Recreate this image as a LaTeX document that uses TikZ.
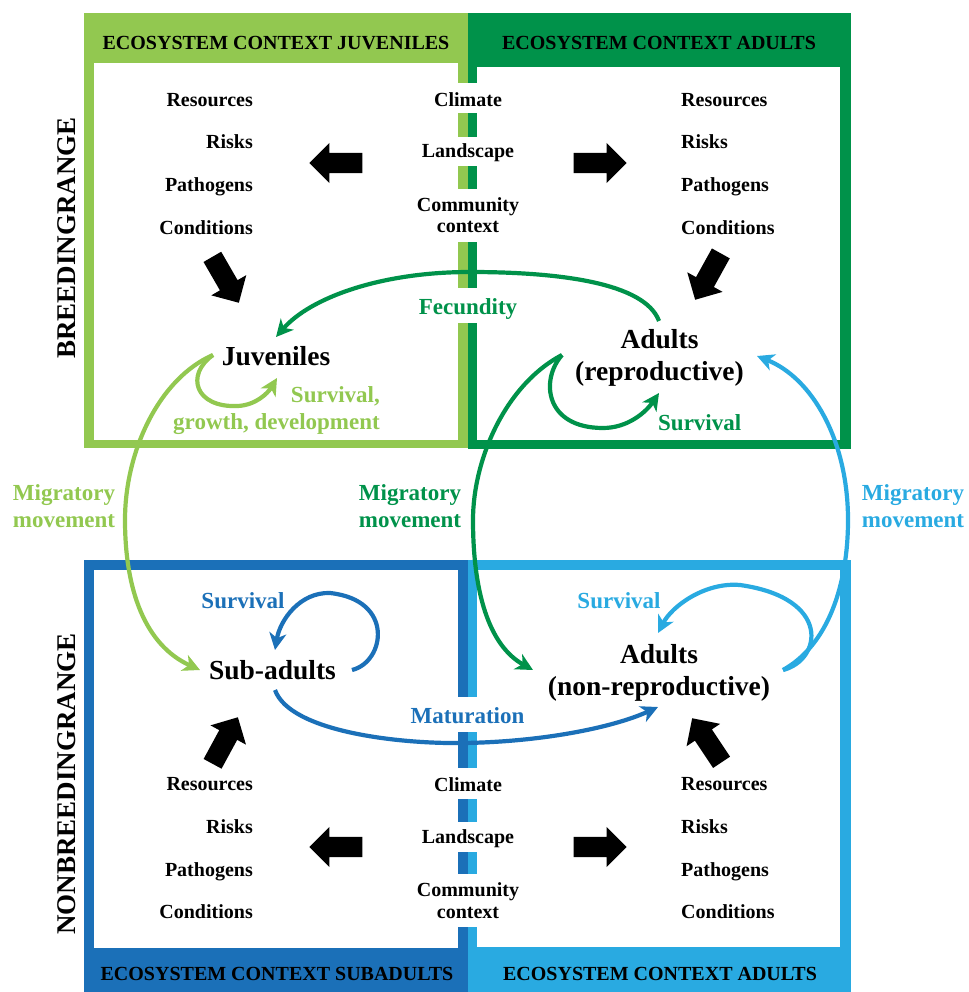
\documentclass[tikz,border=0pt]{standalone}
\usepackage{fontspec}
\setmainfont{Liberation Serif}
\usetikzlibrary{arrows.meta,shapes.arrows}
\definecolor{lgreen}{HTML}{92C850}
\definecolor{dgreen}{HTML}{00924A}
\definecolor{dblue}{HTML}{1B70B8}
\definecolor{lblue}{HTML}{29AAE1}
\begin{document}
\begin{tikzpicture}[x=1pt,y=-1pt,
  title/.style={font=\bfseries\fontsize{20}{23}\selectfont, inner sep=0pt, anchor=base},
  body/.style={font=\bfseries\fontsize{20}{21.5}\selectfont, inner sep=0pt, align=center},
  stage/.style={font=\bfseries\fontsize{27.5}{31.5}\selectfont, inner sep=0pt, anchor=base, align=center},
  clab/.style={font=\bfseries\fontsize{23}{27}\selectfont, inner sep=0pt, anchor=base, align=center},
  side/.style={font=\bfseries\fontsize{27}{30}\selectfont, inner sep=0pt, rotate=90},
  blk/.style={single arrow, fill=black, draw=none, inner xsep=0pt, inner ysep=10pt,
              minimum height=53pt, single arrow head extend=10pt, single arrow tip angle=90,
              anchor=tip},
  flow/.style={line width=4.2pt, -{Stealth[length=17pt,width=17pt,inset=5pt]}}
]
\useasboundingbox (0,0) rectangle (968,992);

% ---- boxes
\fill[lgreen] (84,13) rectangle (468,448);
\fill[white] (94,63) rectangle (458,440);
\fill[dgreen] (468,13) rectangle (851,449);
\fill[white] (477,67) rectangle (840,440);
\fill[dblue] (84,560) rectangle (468,992);
\fill[white] (94,570) rectangle (458,948);
\fill[lblue] (468,560) rectangle (851,992);
\fill[white] (477,570) rectangle (840,947);
\foreach \a/\b in {83/113,137/166,189/242,288/323,697/732,768/799,822/852,874/927}
  \fill[white] (458,\a) rectangle (477,\b);

% ---- titles
\node[title] (t1) at (276,50) {ECOSYSTEM CONTEXT JUVENILES};
\node[title] (t2) at (659,50) {ECOSYSTEM CONTEXT ADULTS};
\node[title] (t3) at (277,980) {ECOSYSTEM CONTEXT SUBADULTS};
\node[title] (t4) at (660,980) {ECOSYSTEM CONTEXT ADULTS};

\node[side] (br) at (67,238) {BREEDINGRANGE};
\node[side] (nbr) at (67,784) {NONBREEDINGRANGE};

% ---- ecosystem factors (top)
\node[body, anchor=base east] (r1) at (253,107) {Resources};
\node[body, anchor=base east] (k1) at (253,149) {Risks};
\node[body, anchor=base east] (p1) at (253,192) {Pathogens};
\node[body, anchor=base east] (c1) at (253,235) {Conditions};
\node[body, anchor=base west] (r2) at (681,107) {Resources};
\node[body, anchor=base west] (k2) at (681,149) {Risks};
\node[body, anchor=base west] (p2) at (681,192) {Pathogens};
\node[body, anchor=base west] (c2) at (681,235) {Conditions};
\node[body, anchor=base] (cl1) at (468,107) {Climate};
\node[body, anchor=base] (ls1) at (468,158) {Landscape};
\node[body, anchor=base] (cc1) at (468,233) {Community\\context};

% ---- ecosystem factors (bottom)
\node[body, anchor=base east] (r3) at (253,790) {Resources};
\node[body, anchor=base east] (k3) at (253,833) {Risks};
\node[body, anchor=base east] (p3) at (253,876) {Pathogens};
\node[body, anchor=base east] (c3) at (253,918) {Conditions};
\node[body, anchor=base west] (r4) at (681,790) {Resources};
\node[body, anchor=base west] (k4) at (681,833) {Risks};
\node[body, anchor=base west] (p4) at (681,876) {Pathogens};
\node[body, anchor=base west] (c4) at (681,918) {Conditions};
\node[body, anchor=base] (cl2) at (468,791) {Climate};
\node[body, anchor=base] (ls2) at (468,843) {Landscape};
\node[body, anchor=base] (cc2) at (468,918) {Community\\context};

% ---- block arrows (placed by their tips)
\node[blk, rotate=180] (ba1) at (309,163) {};
\node[blk] (ba2) at (627,163) {};
\node[blk, rotate=180] (ba3) at (309,847) {};
\node[blk] (ba4) at (627,847) {};
\node[blk, rotate=-60] (ba5) at (239,303) {};
\node[blk, rotate=-119] (ba6) at (695,300) {};
\node[blk, rotate=61.5] (ba7) at (238,717) {};
\node[blk, rotate=123.7] (ba8) at (692,718) {};

% ---- stages
\node[stage] (juv) at (276,365) {Juveniles};
\node[stage] (adr) at (659.5,380) {Adults\\(reproductive)};
\node[stage] (sub) at (272.5,679) {Sub-adults};
\node[stage] (adn) at (659,695) {Adults\\(non-reproductive)};

% ---- coloured labels
\node[clab, text=dgreen] (fec) at (468,314) {Fecundity};
\node[clab, text=lgreen, anchor=base east, align=right] (sgd) at (380,429) {Survival,\\growth, development};
\node[clab, text=dgreen, anchor=base west] (sadr) at (658,430) {Survival};
\node[clab, text=lgreen] (m1) at (64,527) {Migratory\\movement};
\node[clab, text=dgreen] (m2) at (410,527) {Migratory\\movement};
\node[clab, text=lblue] (m3) at (913,527) {Migratory\\movement};
\node[clab, text=dblue] (ssub) at (243,608) {Survival};
\node[clab, text=dblue] (mat) at (467.5,723) {Maturation};
\node[clab, text=lblue] (sadn) at (619,608) {Survival};

% ---- connector end points
\coordinate (juvW) at (213,355);
\coordinate (juvSE) at (277,378);
\coordinate (juvNE) at (276,337);
\coordinate (adrN) at (659,321);
\coordinate (adrW) at (562,355);
\coordinate (adrS) at (659,393);
\coordinate (adrE) at (757,356);
\coordinate (subW) at (200,670);
\coordinate (subE) at (352,670);
\coordinate (subN) at (275,650);
\coordinate (subS) at (275,690);
\coordinate (adnW) at (533,670);
\coordinate (adnE) at (783,670);
\coordinate (adnN) at (658,633);
\coordinate (adnS) at (658,707);

% ---- flows
\draw[flow, dgreen] (adrN) .. controls (645,283) and (560,272) .. (470,272)
                           .. controls (380,272) and (310,298) .. (juvNE);
\draw[flow, lgreen] (juvW) .. controls (185,375) and (195,408) .. (238,406)
                           .. controls (256,405) and (268,393) .. (juvSE);
\draw[flow, lgreen] (juvW) .. controls (160,378) and (125,450) .. (125,520)
                           .. controls (125,590) and (145,645) .. (subW);
\draw[flow, dgreen] (adrW) .. controls (540,380) and (545,428) .. (603,428)
                           .. controls (628,428) and (646,412) .. (adrS);
\draw[flow, dgreen] (adrW) .. controls (505,385) and (473,460) .. (473,520)
                           .. controls (473,590) and (488,645) .. (adnW);
\draw[flow, lblue] (adnE) .. controls (828,645) and (848,585) .. (848,520)
                          .. controls (848,440) and (812,378) .. (adrE);
\draw[flow, lblue] (adnE) .. controls (822,660) and (832,598) .. (740,585)
                          .. controls (705,582) and (672,606) .. (adnN);
\draw[flow, dblue] (subE) .. controls (385,662) and (395,600) .. (330,593)
                          .. controls (300,592) and (280,620) .. (subN);
\draw[flow, dblue] (subS) .. controls (290,732) and (400,744) .. (463,743)
                          .. controls (540,742) and (612,728) .. (adnS);
\end{tikzpicture}
\end{document}
